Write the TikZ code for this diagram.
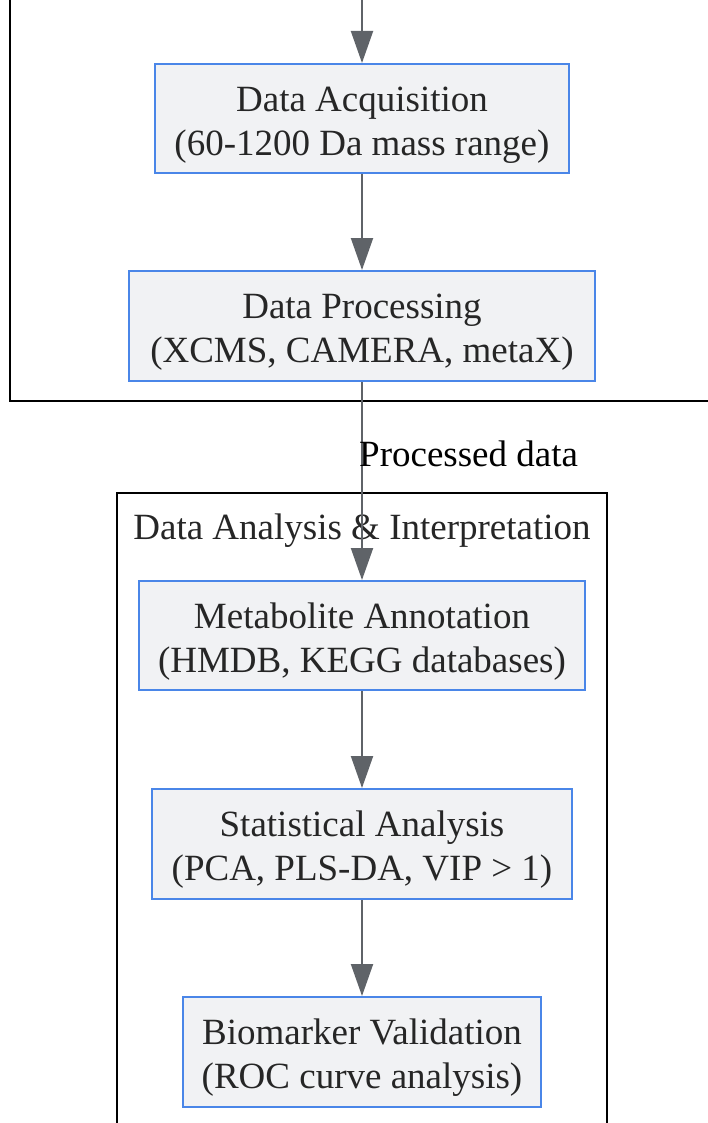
\documentclass[tikz,border=0pt]{standalone}
\usepackage{fontspec}
\setmainfont{Liberation Serif}
\usetikzlibrary{arrows.meta}
\definecolor{boxfill}{HTML}{F1F2F4}
\definecolor{boxline}{HTML}{4A86E8}
\definecolor{arrowgray}{HTML}{5F6368}
\newcommand{\toppad}{\rule{0pt}{37pt}}
\tikzset{
  procbox/.style={draw=boxline, line width=2pt, fill=boxfill, align=center, inner sep=0pt,
    font=\fontsize{37}{44}\selectfont, text=black!85},
  flow/.style={draw=arrowgray, line width=2pt, -{Triangle[width=22pt,length=32pt]}},
  frame/.style={draw=black, line width=2pt},
  lbl/.style={font=\fontsize{37}{44}\selectfont, inner sep=0pt}
}
\begin{document}
\begin{tikzpicture}[x=1pt,y=-1pt]
\useasboundingbox (0,0) rectangle (707,1123);
\fill[white] (0,0) rectangle (707,1123);
% clusters
\draw[frame] (10,-5) -- (10,401) -- (712,401);
\draw[frame] (117,1130) -- (117,493) -- (607,493) -- (607,1130);
\node[lbl, text=black!85] (title) at (362,531) {Data Analysis \& Interpretation};
% boxes
\node[procbox, minimum width=414pt, minimum height=109pt] (acq) at (362,118.5) {\toppad Data Acquisition\\(60-1200 Da mass range)};
\node[procbox, minimum width=466pt, minimum height=110pt] (proc) at (362,326) {\toppad Data Processing\\(XCMS, CAMERA, metaX)};
\node[procbox, minimum width=446pt, minimum height=109pt] (annot) at (362,635.5) {\toppad Metabolite Annotation\\(HMDB, KEGG databases)};
\node[procbox, minimum width=420pt, minimum height=110pt] (stat) at (362,844) {\toppad Statistical Analysis\\(PCA, PLS-DA, VIP > 1)};
\node[procbox, minimum width=358pt, minimum height=110pt] (bio) at (362,1052) {\toppad Biomarker Validation\\(ROC curve analysis)};
% connectors
\coordinate (top) at (362,-2);
\draw[flow] (top) -- (acq.north);
\draw[flow] (acq) -- (proc);
\draw[flow] (proc) -- (annot);
\draw[flow] (annot) -- (stat);
\draw[flow] (stat) -- (bio);
\node[lbl, anchor=west] (pd) at (359,454) {Processed data};
\end{tikzpicture}
\end{document}
